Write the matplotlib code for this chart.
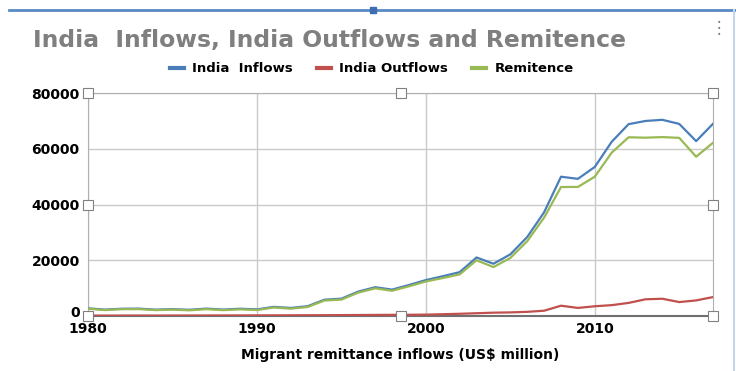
import matplotlib
matplotlib.use("Agg")
import matplotlib.pyplot as plt
import matplotlib.transforms as mtransforms
from matplotlib.lines import Line2D

plt.rcParams['font.family'] = ['DejaVu Sans']

years = list(range(1980, 2018))
inflows = [2757, 2301, 2618, 2660, 2295, 2469, 2240, 2665, 2315, 2614,
           2384, 3289, 2897, 3523, 5857, 6223, 8766, 10331, 9479, 11124,
           12890, 14273, 15736, 20999, 18750, 22125, 28334, 37217, 49977, 49204,
           53480, 62499, 68821, 69970, 70389, 68910, 62744, 68968]
outflows = [150, 160, 170, 180, 170, 180, 190, 200, 210, 220,
            230, 240, 260, 280, 300, 330, 360, 400, 420, 450,
            500, 650, 800, 1000, 1200, 1300, 1500, 1900, 3700, 2900,
            3500, 3900, 4700, 6000, 6200, 5000, 5600, 6800]
remitence = [2607, 2141, 2448, 2480, 2125, 2289, 2050, 2465, 2105, 2394,
             2154, 3049, 2637, 3243, 5557, 5893, 8406, 9931, 9059, 10674,
             12390, 13623, 14936, 19999, 17550, 20825, 26834, 35317, 46277, 46304,
             49980, 58599, 64121, 63970, 64189, 63910, 57144, 62168]

series_names = ['India  Inflows', 'India Outflows', 'Remitence']
colors = ['#4a7ebb', '#c0504d', '#98b954']
x_ticks = [1980, 1990, 2000, 2010]
y_ticks = [0, 20000, 40000, 60000, 80000]

fig = plt.figure(figsize=(7.36, 3.71), dpi=100)
ax = fig.add_axes([0.1196, 0.1482, 0.8492, 0.6011])

for vals, c in zip([inflows, outflows, remitence], colors):
    ax.plot(years, vals, color=c, lw=1.6, zorder=3)

ax.set_xlim(1980, 2017)
ax.set_ylim(0, 80000)
ax.set_xticks(x_ticks)
ax.set_yticks(y_ticks)
ax.set_xticklabels([str(t) for t in x_ticks], fontweight='bold', fontsize=10)
ax.set_yticklabels([str(t) for t in y_ticks], fontweight='bold', fontsize=10)
ax.tick_params(length=0)
ax.tick_params(axis='y', pad=6)
ax.tick_params(axis='x', pad=4)
ax.grid(True, color='#cacaca', lw=1)
for side in ['top', 'left', 'right']:
    ax.spines[side].set_color('#b0b0b0')
ax.spines['bottom'].set_color('#707070')
ax.spines['bottom'].set_linewidth(1.5)
ax.set_xlabel('Migrant remittance inflows (US$ million)', fontweight='bold',
              fontsize=10, labelpad=9)

# lift the "0" label a little so it sits clear of "1980"
zero_lbl = ax.get_yticklabels()[0]
zero_lbl.set_transform(zero_lbl.get_transform() +
                       mtransforms.ScaledTranslation(0, 3 / 72, fig.dpi_scale_trans))

# selection handles
for hx, hy in [(0, 1), (0.5, 1), (1, 1), (0, 0.5), (1, 0.5), (0, 0), (0.5, 0), (1, 0)]:
    ax.plot(hx, hy, 's', ms=7, mfc='white', mec='#808080', mew=0.8,
            transform=ax.transAxes, clip_on=False, zorder=5)

fig.text(0.045, 0.89, 'India  Inflows, India Outflows and Remitence',
         fontsize=16.9, fontweight='bold', color='#7f7f7f', va='center')

handles = [Line2D([0], [0], color=c, lw=3) for c in colors]
fig.legend(handles, series_names, loc='center', bbox_to_anchor=(0.505, 0.815),
           ncol=3, frameon=False, prop={'weight': 'bold', 'size': 9.5},
           handlelength=1.1, handletextpad=0.6, columnspacing=1.8)

# frame decorations
fig.add_artist(Line2D([0.012, 1.0], [0.972, 0.972], color='#5a8ac6', lw=2,
                      transform=fig.transFigure))
fig.add_artist(Line2D([0.507], [0.972], marker='s', ms=4, color='#3c6eb4',
                      transform=fig.transFigure))
fig.add_artist(Line2D([0.997, 0.997], [0.0, 0.972], color='#c5d5ea', lw=1.5,
                      transform=fig.transFigure))
fig.text(0.977, 0.925, '\u22ee', fontsize=12, color='#808080', ha='center', va='center')

fig.savefig('out.png', dpi=100)
